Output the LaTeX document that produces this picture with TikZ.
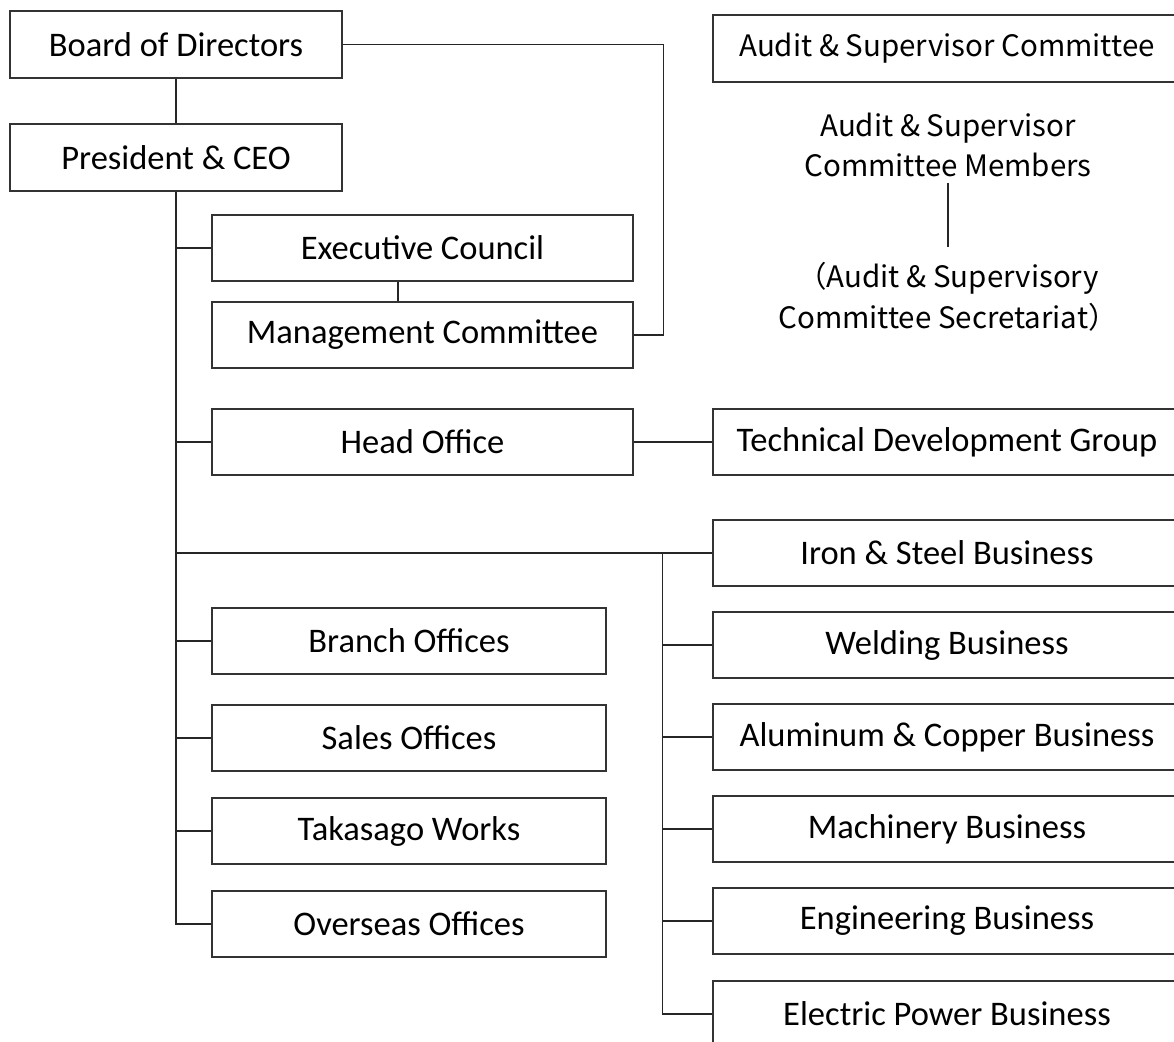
\documentclass[tikz,border=0pt]{standalone}
\usepackage{fontspec}
\setmainfont{Carlito}
\newfontfamily\jpfont{Noto Sans CJK JP}
\begin{document}
\begin{tikzpicture}[x=1pt,y=-1pt,
  box/.style={draw=black!80,line width=1.4pt,rectangle,inner sep=0pt,minimum height=66pt,font=\fontsize{34.5}{40}\selectfont},
  leftbox/.style={box,minimum width=421pt},
  shortbox/.style={box,minimum width=394pt},
  rightbox/.style={box,minimum width=468pt},
  topbox/.style={box,minimum width=332pt,minimum height=67pt},
  jptext/.style={align=center,inner sep=0pt,font=\jpfont\fontsize{29.5}{40.5}\selectfont},
  conn/.style={draw=black!85,line width=1.4pt}]
\clip (0,0) rectangle (1174,1041);
\fill[white] (0,0) rectangle (1174,1041);
% left column
\node[topbox] (board) at (176,44.5) {Board of Directors};
\node[topbox] (ceo) at (176,157.5) {President \& CEO};
\node[leftbox] (exec) at (422.5,248) {Executive Council};
\node[leftbox] (mgmt) at (422.5,335) {Management Committee};
\node[leftbox] (head) at (422.5,442) {Head Office};
\node[shortbox] (branch) at (409,641) {Branch Offices};
\node[shortbox] (sales) at (409,738) {Sales Offices};
\node[shortbox] (taka) at (409,831) {Takasago Works};
\node[shortbox] (overseas) at (409,924) {Overseas Offices};
% right column
\node[rightbox,font=\jpfont\fontsize{29.5}{34}\selectfont,minimum height=67pt] (audit) at (947,48.5) {Audit \& Supervisor Committee};
\node[jptext] (members) at (948,145) {Audit \& Supervisor\\Committee Members};
\node[jptext] (secr) at (948,297) {（Audit \& Supervisory\\Committee Secretariat）};
\node[rightbox] (tech) at (947,442) {Technical Development Group};
\node[rightbox] (iron) at (947,553) {Iron \& Steel Business};
\node[rightbox] (weld) at (947,645) {Welding Business};
\node[rightbox] (alum) at (947,737) {Aluminum \& Copper Business};
\node[rightbox] (mach) at (947,829) {Machinery Business};
\node[rightbox] (eng) at (947,921) {Engineering Business};
\node[rightbox] (elec) at (947,1014) {Electric Power Business};
% coordinates
\coordinate (trunkend) at (ceo.south |- overseas.west);
\coordinate (bus) at ([xshift=-50pt]iron.west);
\coordinate (busend) at (bus |- elec.west);
\coordinate (mtop) at (948,183);
\coordinate (mbot) at (948,247);
% connectors
\draw[conn] (board.south) -- (ceo.north);
\draw[conn] (ceo.south) -- (trunkend) -- (overseas.west);
\draw[conn] (ceo.south |- exec.west) -- (exec.west);
\draw[conn] ([xshift=-24.5pt]exec.south) -- ([xshift=-24.5pt]mgmt.north);
\draw[conn] (board.east) -| ([xshift=30pt]mgmt.east) -- (mgmt.east);
\draw[conn] (ceo.south |- head.west) -- (head.west);
\draw[conn] (head.east) -- (tech.west);
\draw[conn] (ceo.south |- iron.west) -- (iron.west);
\draw[conn] (bus) -- (busend) -- (elec.west);
\foreach \n in {weld,alum,mach,eng} \draw[conn] (bus |- \n.west) -- (\n.west);
\foreach \n in {branch,sales,taka} \draw[conn] (ceo.south |- \n.west) -- (\n.west);
\draw[conn] (members.south |- mtop) -- (secr.north |- mbot);
\end{tikzpicture}
\end{document}
